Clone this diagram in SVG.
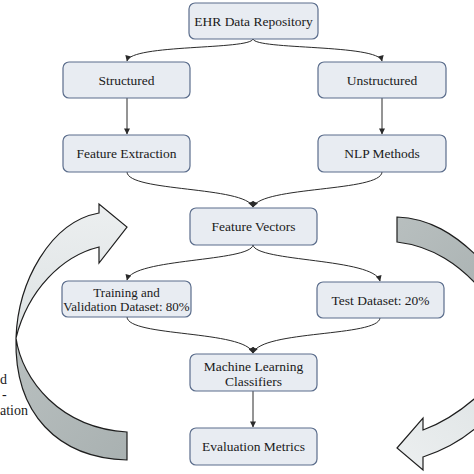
<svg xmlns="http://www.w3.org/2000/svg" width="474" height="474" viewBox="0 0 474 474">
  <defs>
    <style>
      .box { fill: #e8ecf2; stroke: #5b6d8c; stroke-width: 1.2; }
      .lbl { font-family: "Liberation Serif", "Times New Roman", serif; font-size: 13.5px; fill: #1a1a1a; text-anchor: middle; }
      .sm { font-size: 13px; }
      .side { font-family: "Liberation Serif", "Times New Roman", serif; font-size: 14px; fill: #1a1a1a; }
      .conn { fill: none; stroke: #2a2a2a; stroke-width: 1; }
      .big { stroke: #1e1e1e; stroke-width: 1.2; stroke-linejoin: miter; }
    </style>
    <marker id="ah" viewBox="0 0 10 10" refX="9" refY="5" markerWidth="7" markerHeight="6" markerUnits="userSpaceOnUse" orient="auto">
      <path d="M0,0 L10,5 L0,10 Z" fill="#2a2a2a"/>
    </marker>
    <linearGradient id="gLeftTop" x1="0" y1="1" x2="0" y2="0">
      <stop offset="0" stop-color="#dde2e3"/>
      <stop offset="1" stop-color="#eceff0"/>
    </linearGradient>
    <linearGradient id="gLeftBot" x1="0" y1="0" x2="1" y2="1">
      <stop offset="0" stop-color="#b9c0c0"/>
      <stop offset="1" stop-color="#a9b1b1"/>
    </linearGradient>
    <linearGradient id="gRightTop" x1="0" y1="0" x2="1" y2="1">
      <stop offset="0" stop-color="#b8bfbf"/>
      <stop offset="1" stop-color="#aab2b2"/>
    </linearGradient>
    <linearGradient id="gRightBot" x1="1" y1="0" x2="0" y2="1">
      <stop offset="0" stop-color="#dfe4e5"/>
      <stop offset="1" stop-color="#eceff0"/>
    </linearGradient>
  </defs>

  <rect width="474" height="474" fill="#ffffff"/>

  <!-- Big curved arrows -->
  <g id="loop-arrow-left">
    <path class="big" fill="url(#gLeftTop)" d="M16,338 C18,282 50,222 99,213 L99,204 L127,227 L99,263 L99,247 C62,256 28,290 16,338 Z"/>
    <path class="big" fill="url(#gLeftBot)" d="M16,338 C22,380 60,428 127,432 L127,460 C58,458 14,414 16,338 Z"/>
  </g>
  <g id="loop-arrow-right">
    <path class="big" fill="url(#gRightTop)" d="M397,217 C425,218 455,230 490,270 L490,300 C460,262 430,246 397,242 Z"/>
    <path class="big" fill="url(#gRightBot)" d="M492,382 C470,405 445,422 423,430 L423,418 L397,448 L423,470 L423,457 C445,450 470,438 494,410 Z"/>
  </g>

  <!-- Side text fragments -->
  <g id="side-label">
    <text class="side" x="0" y="384">d</text>
    <text class="side" x="2" y="399">-</text>
    <text class="side" x="0" y="415">ation</text>
  </g>

  <!-- Connectors -->
  <g id="connectors">
    <path class="conn" marker-end="url(#ah)" d="M253,39 C250,50 131,44 127,61"/>
    <path class="conn" marker-end="url(#ah)" d="M253,39 C256,50 378,44 382,61"/>
    <path class="conn" marker-end="url(#ah)" d="M127,98 L127,134"/>
    <path class="conn" marker-end="url(#ah)" d="M382,98 L382,134"/>
    <path class="conn" marker-end="url(#ah)" d="M127,172 C128,192 245,186 253,207"/>
    <path class="conn" marker-end="url(#ah)" d="M382,172 C381,192 262,186 253,207"/>
    <path class="conn" marker-end="url(#ah)" d="M253,245 C250,262 133,258 127,280"/>
    <path class="conn" marker-end="url(#ah)" d="M253,245 C256,262 374,258 380,281"/>
    <path class="conn" marker-end="url(#ah)" d="M127,317 C128,337 245,330 253,353"/>
    <path class="conn" marker-end="url(#ah)" d="M380,318 C378,337 262,330 253,353"/>
    <path class="conn" marker-end="url(#ah)" d="M253,391 L253,427"/>
  </g>

  <!-- Nodes -->
  <g id="ehr">
    <rect class="box" x="189" y="3" width="129" height="36" rx="6"/>
    <text class="lbl" x="253.5" y="26">EHR Data Repository</text>
  </g>
  <g id="structured">
    <rect class="box" x="63" y="62" width="127" height="36" rx="6"/>
    <text class="lbl" x="126.5" y="85">Structured</text>
  </g>
  <g id="unstructured">
    <rect class="box" x="318" y="62" width="128" height="36" rx="6"/>
    <text class="lbl" x="382" y="85">Unstructured</text>
  </g>
  <g id="feature-extraction">
    <rect class="box" x="63" y="135" width="127" height="37" rx="6"/>
    <text class="lbl" x="126.5" y="158">Feature Extraction</text>
  </g>
  <g id="nlp-methods">
    <rect class="box" x="318" y="135" width="128" height="37" rx="6"/>
    <text class="lbl" x="382" y="158">NLP Methods</text>
  </g>
  <g id="feature-vectors">
    <rect class="box" x="190" y="208" width="127" height="37" rx="6"/>
    <text class="lbl" x="253.5" y="231">Feature Vectors</text>
  </g>
  <g id="training">
    <rect class="box" x="62" y="281" width="129" height="36" rx="6"/>
    <text class="lbl sm" x="126.5" y="297">Training and</text>
    <text class="lbl sm" x="126.5" y="311">Validation Dataset: 80%</text>
  </g>
  <g id="test">
    <rect class="box" x="317" y="282" width="127" height="36" rx="6"/>
    <text class="lbl" x="380.5" y="305">Test Dataset: 20%</text>
  </g>
  <g id="ml-classifiers">
    <rect class="box" x="190" y="354" width="127" height="37" rx="6"/>
    <text class="lbl" x="253.5" y="371">Machine Learning</text>
    <text class="lbl" x="253.5" y="386">Classifiers</text>
  </g>
  <g id="evaluation">
    <rect class="box" x="190" y="428" width="127" height="37" rx="6"/>
    <text class="lbl" x="253.5" y="451">Evaluation Metrics</text>
  </g>
</svg>
